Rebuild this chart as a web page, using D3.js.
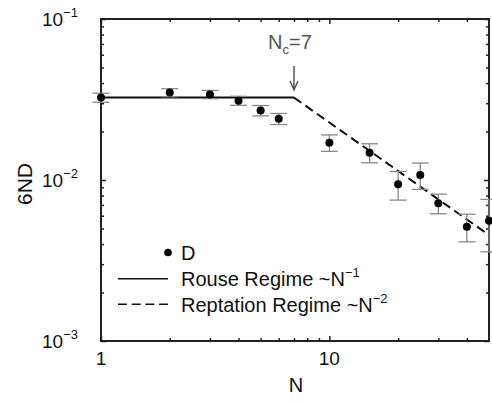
<!DOCTYPE html>
<html>
<head>
<meta charset="utf-8">
<script src="https://cdn.jsdelivr.net/npm/d3@7"></script>
<style>
  html, body { margin: 0; padding: 0; background: #fff; }
  svg { display: block; font-family: "Liberation Sans", Arial, Helvetica, sans-serif; }
</style>
</head>
<body>
<svg id="chart" width="492" height="401"></svg>
<script>
// ---- data ----
const nValues   = [1, 2, 3, 4, 5, 6, 10, 15, 20, 25, 30, 40, 50];
const dValues   = [0.0325, 0.0349, 0.0340, 0.0311, 0.0270, 0.0240, 0.01706, 0.01479, 0.0094, 0.01074, 0.00717, 0.00513, 0.00558];
const errValues = [0.0021, 0.0020, 0.0020, 0.0020, 0.0020, 0.0019, 0.0020, 0.0020, 0.0019, 0.0020, 0.0010, 0.0010, 0.0020];
const rouseN = [1, 7];
const rouseV = [0.0325, 0.0325];
const reptN  = [7, 50];
const reptV  = [0.0325, 0.00455];
const xMajorTicks = [1, 10];
const xMinorTicks = [2, 3, 4, 5, 6, 7, 8, 9, 20, 30, 40];
const yMajorTicks = [1e-3, 1e-2, 1e-1];
const yMajorLabels = ["\u22123", "\u22122", "\u22121"];
const yMinorTicks = [2,3,4,5,6,7,8,9].flatMap(m => [m * 1e-3, m * 1e-2]);
const nc = 7;

// ---- layout ----
const svg = d3.select("#chart");
const L = 101, R = 489, T = 19, B = 341;
const x = d3.scaleLog().domain([1, 50]).range([L, R]);
const y = d3.scaleLog().domain([1e-3, 1e-1]).range([B, T]);
const frameColor = "#222";

// ticks via d3 axes (inward)
function styleAxis(g) {
  g.select(".domain").remove();
  g.selectAll(".tick line").attr("stroke", frameColor).attr("stroke-width", 1.5);
  g.selectAll(".tick text").remove();
}
svg.append("g").attr("transform", `translate(0,${B})`)
  .call(d3.axisBottom(x).tickValues(xMinorTicks).tickSize(-3).tickFormat("")).call(styleAxis);
svg.append("g").attr("transform", `translate(0,${B})`)
  .call(d3.axisBottom(x).tickValues(xMajorTicks).tickSize(-5).tickFormat("")).call(styleAxis);
svg.append("g").attr("transform", `translate(0,${T})`)
  .call(d3.axisTop(x).tickValues(xMinorTicks).tickSize(-3).tickFormat("")).call(styleAxis);
svg.append("g").attr("transform", `translate(0,${T})`)
  .call(d3.axisTop(x).tickValues(xMajorTicks).tickSize(-5).tickFormat("")).call(styleAxis);
svg.append("g").attr("transform", `translate(${L},0)`)
  .call(d3.axisLeft(y).tickValues(yMinorTicks).tickSize(-3).tickFormat("")).call(styleAxis);
svg.append("g").attr("transform", `translate(${L},0)`)
  .call(d3.axisLeft(y).tickValues(yMajorTicks).tickSize(-5).tickFormat("")).call(styleAxis);
svg.append("g").attr("transform", `translate(${R},0)`)
  .call(d3.axisRight(y).tickValues(yMinorTicks).tickSize(-3).tickFormat("")).call(styleAxis);
svg.append("g").attr("transform", `translate(${R},0)`)
  .call(d3.axisRight(y).tickValues(yMajorTicks).tickSize(-5).tickFormat("")).call(styleAxis);

// frame
svg.append("rect").attr("x", L).attr("y", T).attr("width", R - L).attr("height", B - T)
  .attr("fill", "none").attr("stroke", frameColor).attr("stroke-width", 2);

// x tick labels
svg.selectAll(".xlab").data(xMajorTicks).enter().append("text")
  .attr("x", d => x(d)).attr("y", 365).attr("text-anchor", "middle")
  .attr("font-size", 19).attr("fill", "#111").text(d => d);

// y tick labels with superscripts
yMajorTicks.forEach((v, i) => {
  const t = svg.append("text").attr("x", 78).attr("y", y(v) + 7)
    .attr("text-anchor", "end").attr("font-size", 19).attr("fill", "#111");
  t.append("tspan").text("10");
  t.append("tspan").attr("font-size", 13).attr("dy", -9).text(yMajorLabels[i]);
});

// axis titles
svg.append("text").attr("x", 296).attr("y", 392).attr("text-anchor", "middle")
  .attr("font-size", 20).attr("fill", "#111").text("N");
svg.append("text").attr("transform", "translate(32,184) rotate(-90)")
  .attr("text-anchor", "middle").attr("font-size", 21).attr("fill", "#111").text("6ND");

// model lines
const line = d3.line().x(d => x(d[0])).y(d => y(d[1]));
svg.append("path").datum(rouseN.map((n, i) => [n, rouseV[i]]))
  .attr("d", line).attr("fill", "none").attr("stroke", "#111").attr("stroke-width", 2);
svg.append("path").datum(reptN.map((n, i) => [n, reptV[i]]))
  .attr("d", line).attr("fill", "none").attr("stroke", "#111").attr("stroke-width", 2)
  .attr("stroke-dasharray", "9,5");

// error bars
const eb = svg.append("g").attr("stroke", "#888").attr("stroke-width", 1.3);
nValues.forEach((n, i) => {
  const cx = x(n), hi = y(dValues[i] + errValues[i]), lo = y(dValues[i] - errValues[i]);
  eb.append("line").attr("x1", cx).attr("x2", cx).attr("y1", hi).attr("y2", lo);
  eb.append("line").attr("x1", cx - 8.5).attr("x2", cx + 8.5).attr("y1", hi).attr("y2", hi);
  eb.append("line").attr("x1", cx - 8.5).attr("x2", cx + 8.5).attr("y1", lo).attr("y2", lo);
});

// points
svg.selectAll(".pt").data(nValues).enter().append("circle")
  .attr("cx", d => x(d)).attr("cy", (d, i) => y(dValues[i])).attr("r", 4).attr("fill", "#000");

// Nc annotation
const ax = x(nc);
const nt = svg.append("text").attr("x", 268).attr("y", 49).attr("font-size", 20).attr("fill", "#555");
nt.append("tspan").text("N");
nt.append("tspan").attr("font-size", 13).attr("dy", 5).text("c");
nt.append("tspan").attr("dy", -5).text("=7");
svg.append("path").attr("d", `M${ax},66 V90 M${ax - 4},81 L${ax},90 L${ax + 4},81`)
  .attr("fill", "none").attr("stroke", "#555").attr("stroke-width", 1.5);

// legend
const lg = svg.append("g");
lg.append("circle").attr("cx", 168).attr("cy", 252.5).attr("r", 3.8).attr("fill", "#000");
lg.append("text").attr("x", 181).attr("y", 260).attr("font-size", 20).attr("fill", "#111").text("D");
lg.append("line").attr("x1", 118).attr("x2", 168).attr("y1", 278.7).attr("y2", 278.7)
  .attr("stroke", "#111").attr("stroke-width", 1.5);
const t1 = lg.append("text").attr("x", 181).attr("y", 286).attr("font-size", 20).attr("fill", "#111");
t1.append("tspan").text("Rouse Regime ~N");
t1.append("tspan").attr("font-size", 13).attr("dy", -9).text("\u22121");
lg.append("line").attr("x1", 118).attr("x2", 168).attr("y1", 304.3).attr("y2", 304.3)
  .attr("stroke", "#111").attr("stroke-width", 1.5).attr("stroke-dasharray", "9,4.7");
const t2 = lg.append("text").attr("x", 181).attr("y", 311.5).attr("font-size", 20).attr("fill", "#111");
t2.append("tspan").text("Reptation Regime ~N");
t2.append("tspan").attr("font-size", 13).attr("dy", -9).text("\u22122");
</script>
</body>
</html>
